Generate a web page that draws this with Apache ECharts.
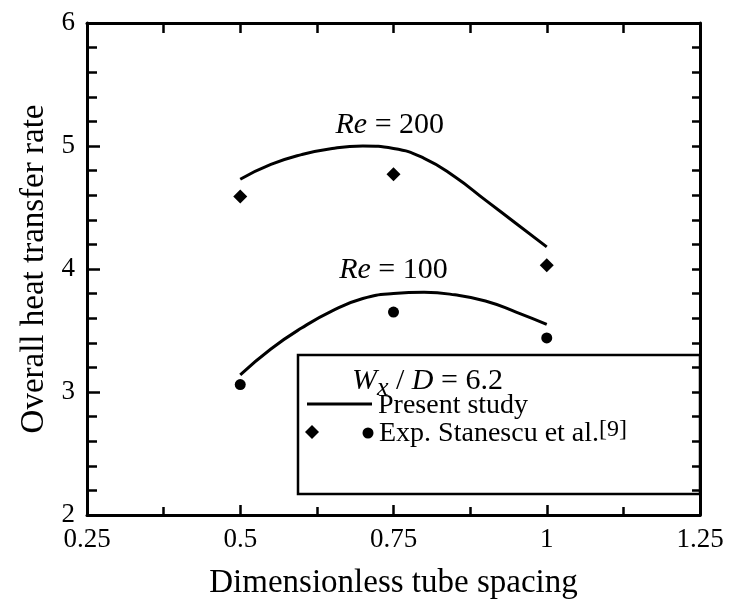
<!DOCTYPE html>
<html>
<head>
<meta charset="utf-8">
<script src="https://cdn.jsdelivr.net/npm/echarts@6/dist/echarts.min.js"></script>
<style>
  html, body { margin: 0; padding: 0; background: #fff; }
  #main { width: 729px; height: 607px; }
</style>
</head>
<body>
<div id="main"></div>
<script>
// curve samples (present study)
var xCurve = [0.5, 0.55, 0.6, 0.65, 0.7, 0.75, 0.8, 0.85, 0.9, 0.95, 1.0];
var re200Curve = [4.73, 4.85, 4.93, 4.98, 5.0, 4.98, 4.90, 4.75, 4.56, 4.37, 4.18];
var re100Curve = [3.14, 3.35, 3.52, 3.66, 3.76, 3.80, 3.81, 3.79, 3.74, 3.65, 3.55];
// experiment (Stanescu et al.)
var xExp = [0.5, 0.75, 1.0];
var re200Exp = [4.59, 4.77, 4.03];
var re100Exp = [3.06, 3.65, 3.44];
// curve labels
var reLabels = [
  { x: 0.744, y: 5.17, text: '200' },
  { x: 0.75, y: 3.99, text: '100' }
];

var serif = 'Liberation Serif';

function pairs(xs, ys) {
  return xs.map(function (x, i) { return [x, ys[i]]; });
}

var chart = echarts.init(document.getElementById('main'));

var option = {
  backgroundColor: '#fff',
  animation: false,
  textStyle: { fontFamily: serif, color: '#000' },
  grid: { left: 87, right: 29, top: 23, bottom: 92 },
  xAxis: [{
    type: 'value', min: 0.25, max: 1.25, interval: 0.25, position: 'bottom',
    name: 'Dimensionless tube spacing', nameLocation: 'middle', nameGap: 52,
    nameTextStyle: { fontFamily: serif, fontSize: 33, color: '#000' },
    axisLine: { lineStyle: { color: '#000', width: 3 } },
    axisTick: { inside: true, length: 10, lineStyle: { color: '#000', width: 2.5 } },
    minorTick: { show: true, splitNumber: 2, length: 8, lineStyle: { color: '#000', width: 2.5 } },
    axisLabel: { fontFamily: serif, fontSize: 27, color: '#000', margin: 11,
      formatter: function (v) { return String(v); } },
    splitLine: { show: false }
  }, {
    type: 'value', min: 0.25, max: 1.25, interval: 0.125, position: 'top',
    axisLine: { lineStyle: { color: '#000', width: 3 } },
    axisTick: { inside: true, length: 10, lineStyle: { color: '#000', width: 2.5 } },
    axisLabel: { show: false },
    splitLine: { show: false }
  }],
  yAxis: [{
    type: 'value', min: 2, max: 6, interval: 1, position: 'left',
    name: 'Overall heat transfer rate', nameLocation: 'middle', nameGap: 36,
    nameTextStyle: { fontFamily: serif, fontSize: 33, color: '#000' },
    axisLine: { lineStyle: { color: '#000', width: 3 } },
    axisTick: { inside: true, length: 13, lineStyle: { color: '#000', width: 2.5 } },
    minorTick: { show: true, splitNumber: 5, length: 10, lineStyle: { color: '#000', width: 2.5 } },
    axisLabel: { fontFamily: serif, fontSize: 27, color: '#000', margin: 12 },
    splitLine: { show: false }
  }, {
    type: 'value', min: 2, max: 6, interval: 0.2, position: 'right',
    axisLine: { lineStyle: { color: '#000', width: 3 } },
    axisTick: { inside: true, length: 8, lineStyle: { color: '#000', width: 2.5 } },
    axisLabel: { show: false },
    splitLine: { show: false }
  }],
  series: [{
    name: 'Re200 curve', type: 'line', smooth: 0.5, showSymbol: false,
    data: pairs(xCurve, re200Curve),
    lineStyle: { color: '#000', width: 3 }
  }, {
    name: 'Re100 curve', type: 'line', smooth: 0.5, showSymbol: false,
    data: pairs(xCurve, re100Curve),
    lineStyle: { color: '#000', width: 3 }
  }, {
    name: 'Re200 exp', type: 'scatter', symbol: 'diamond', symbolSize: 14,
    data: pairs(xExp, re200Exp),
    itemStyle: { color: '#000', opacity: 1 }
  }, {
    name: 'Re100 exp', type: 'scatter', symbol: 'circle', symbolSize: 11,
    data: pairs(xExp, re100Exp),
    itemStyle: { color: '#000', opacity: 1 }
  }, {
    name: 'labels', type: 'scatter', symbolSize: 0, silent: true,
    data: reLabels.map(function (d) { return { value: [d.x, d.y], text: d.text }; }),
    itemStyle: { color: '#000', opacity: 1 },
    label: {
      show: true, position: 'inside', color: '#000',
      formatter: function (p) { return '{i|Re}{n| = ' + p.data.text + '}'; },
      rich: {
        i: { fontFamily: serif, fontStyle: 'italic', fontSize: 30, color: '#000' },
        n: { fontFamily: serif, fontSize: 30, color: '#000' }
      }
    }
  }],
  graphic: [{
    type: 'group', z: 100,
    children: [{
      type: 'rect', shape: { x: 298, y: 355, width: 402, height: 139 },
      style: { fill: '#fff', stroke: '#000', lineWidth: 2.5 }
    }, {
      type: 'text', x: 352, y: 381,
      style: {
        text: '{i|W}{s|x}{n| / }{i|D}{n| = 6.2}',
        verticalAlign: 'middle',
        rich: {
          i: { fontFamily: serif, fontStyle: 'italic', fontSize: 30, fill: '#000' },
          s: { fontFamily: serif, fontStyle: 'italic', fontSize: 26, fill: '#000', padding: [14, 0, 0, 0] },
          n: { fontFamily: serif, fontSize: 30, fill: '#000' }
        }
      }
    }, {
      type: 'line', shape: { x1: 307, y1: 404, x2: 372, y2: 404 },
      style: { stroke: '#000', lineWidth: 3 }
    }, {
      type: 'text', x: 378, y: 406,
      style: { text: 'Present study', font: '28px "Liberation Serif"', fill: '#000', verticalAlign: 'middle' }
    }, {
      type: 'polygon', shape: { points: [[312, 425], [319, 432], [312, 439], [305, 432]] },
      style: { fill: '#000' }
    }, {
      type: 'circle', shape: { cx: 368, cy: 433, r: 5.5 },
      style: { fill: '#000' }
    }, {
      type: 'text', x: 379, y: 434,
      style: { text: 'Exp. Stanescu et al.', font: '28px "Liberation Serif"', fill: '#000', verticalAlign: 'middle' }
    }, {
      type: 'text', x: 599, y: 430,
      style: { text: '[9]', font: '24px "Liberation Serif"', fill: '#000', verticalAlign: 'middle' }
    }]
  }]
};

chart.setOption(option);
</script>
</body>
</html>
